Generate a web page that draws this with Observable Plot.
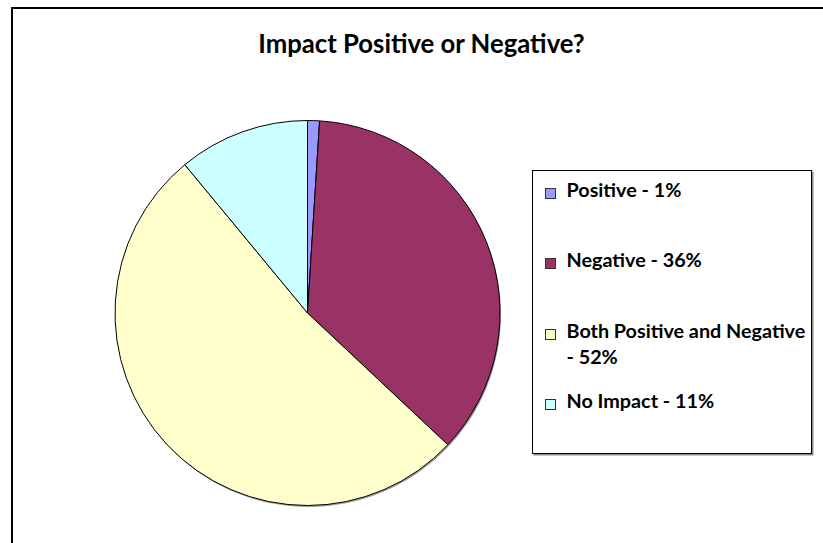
<!DOCTYPE html>
<html>
<head>
<meta charset="utf-8">
<script src="https://cdn.jsdelivr.net/npm/d3@7"></script>
<script src="https://cdn.jsdelivr.net/npm/@observablehq/plot@0.6"></script>
<style>
  html, body { margin: 0; padding: 0; background: #fff; overflow: hidden; }
  #page { width: 823px; height: 543px; position: relative; overflow: hidden; font-family: Lato, "Open Sans", sans-serif; }
  #frame { position: absolute; left: 11px; top: 7px; width: 900px; height: 600px; border: 2px solid #000; box-sizing: border-box; }
  #title { position: absolute; left: 0; width: 823px; text-align: center; top: 28px; font-weight: 700; color: #000; white-space: nowrap; }
  #chart { position: absolute; left: 0; top: 0; }
  #legend { position: absolute; left: 532px; top: 170px; width: 280px; height: 284px; box-sizing: border-box;
            border: 1.5px solid #000; box-shadow: 1.5px 1.5px 0 #8a8a8a; background: #fff; }
  .item { position: absolute; font-weight: 700; color: #000; line-height: 1; white-space: nowrap; }
  .sw { position: absolute; width: 11px; height: 11px; box-sizing: border-box; border: 1px solid #333; }
</style>
</head>
<body>
<div id="page">
  <div id="frame"></div>
  <div id="title">Impact Positive or Negative?</div>
  <div id="chart"></div>
  <div id="legend"></div>
</div>
<script>
// Survey answers, as shares of respondents (percent)
const categories = ["Positive", "Negative", "Both Positive and Negative", "No Impact"];
const shares = [1, 36, 52, 11];
const colors = ["#9999FF", "#993366", "#FFFFCC", "#CCFFFF"];
const legendLabels = [
  ["Positive - 1%"],
  ["Negative - 36%"],
  ["Both Positive and Negative", "- 52%"],
  ["No Impact - 11%"]
];

const data = categories.map((c, i) => ({category: c, share: shares[i]}));

// Size a bold Lato string to span a given width
function fitSize(text, targetWidth) {
  const ctx = document.createElement("canvas").getContext("2d");
  ctx.font = "700 100px Lato";
  return 100 * targetWidth / ctx.measureText(text).width;
}

// Pie wedges: angles from d3.pie, placed and coloured through Plot's scales
function pieMark(index, scales, values, dimensions) {
  const cx = scales.x(0), cy = scales.y(0);
  const r = Math.abs(scales.x(1) - scales.x(0));
  const color = scales.color;
  const arcs = d3.pie().sort(null).value(d => d.share)(data);
  const arc = d3.arc().innerRadius(0).outerRadius(r);
  const g = d3.create("svg:g").attr("transform", `translate(${cx},${cy})`);
  g.append("circle").attr("cx", 1).attr("cy", 1.5).attr("r", r).attr("fill", "#9a9a9a");
  g.selectAll("path.slice").data(arcs).join("path")
    .attr("class", "slice")
    .attr("d", arc)
    .attr("fill", d => color(d.data.category))
    .attr("stroke", "#000")
    .attr("stroke-width", 1)
    .attr("stroke-linejoin", "round");
  return g.node();
}

const plot = Plot.plot({
  width: 823,
  height: 543,
  marginLeft: 115,
  marginRight: 323,
  marginTop: 120,
  marginBottom: 37,
  x: {domain: [-1, 1], axis: null},
  y: {domain: [-1, 1], axis: null},
  color: {type: "ordinal", domain: categories, range: colors},
  style: {background: "transparent", overflow: "visible"},
  marks: [pieMark]
});
document.getElementById("chart").appendChild(plot);

// Title, centred on the chart frame
const title = document.getElementById("title");
title.style.fontSize = fitSize(title.textContent, 327) + "px";
title.style.left = "10px";

// Legend built from the plot's colour scale
const colorScale = plot.scale("color");
const legend = document.getElementById("legend");
const legendSize = fitSize("Both Positive and Negative", 239);
const baselines = [[200], [270], [341, 367], [411]];
legendLabels.forEach((lines, i) => {
  lines.forEach((line, j) => {
    const t = document.createElement("div");
    t.className = "item";
    t.textContent = line;
    t.style.fontSize = legendSize + "px";
    t.style.left = (567 - 533.5) + "px";
    const base = baselines[i][j] - 171.5;
    t.style.top = (base - legendSize * 0.98) + "px";
    legend.appendChild(t);
  });
  const sw = document.createElement("div");
  sw.className = "sw";
  sw.style.background = colorScale.apply(categories[i]);
  sw.style.left = (545 - 533.5) + "px";
  sw.style.top = (baselines[i][0] - 12 - 171.5) + "px";
  legend.appendChild(sw);
});
</script>
</body>
</html>
